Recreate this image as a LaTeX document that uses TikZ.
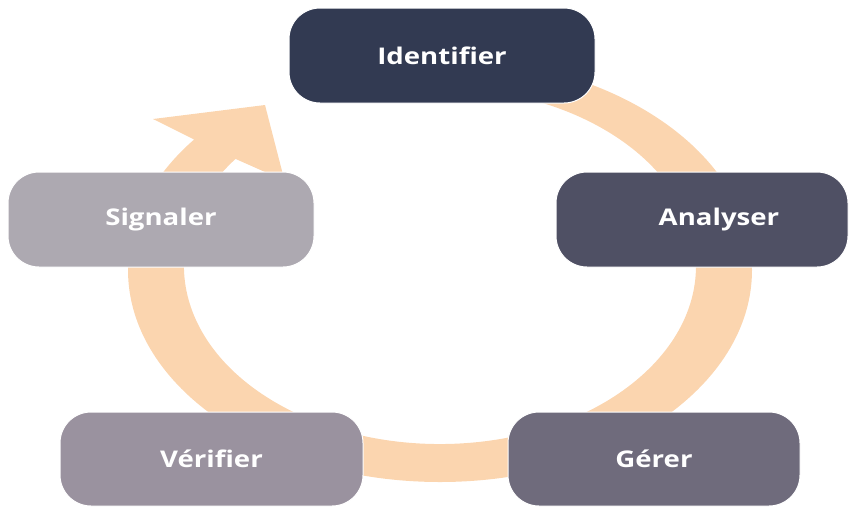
\documentclass[tikz,border=0pt]{standalone}
\usepackage{fontspec}
\newfontfamily\lblfont{Open Sans}[FakeStretch=1.2]
\definecolor{ringc}{HTML}{FBD5AF}
\definecolor{cIdent}{HTML}{323A52}
\definecolor{cAnal}{HTML}{4F5064}
\definecolor{cGerer}{HTML}{6F6B7C}
\definecolor{cVerif}{HTML}{9A929F}
\definecolor{cSign}{HTML}{ADA9B1}
\tikzset{
  stagebox/.style={rectangle, rounded corners=31pt, draw=white, line width=1pt,
    minimum height=95pt, inner sep=0pt, text=white,
    font=\lblfont\bfseries\fontsize{23}{28}\selectfont},
}
\begin{document}
\begin{tikzpicture}[x=1pt,y=-1pt]
\useasboundingbox (0,0) rectangle (851,507);
% circular arrow ring
\fill[ringc] (440,58)
  arc[start angle=-90, end angle=218, x radius=312, y radius=212]
  -- (153,119) -- (265,105) -- (284.5,180.6) -- (235.5,158.9)
  arc[start angle=217, end angle=-90, x radius=256, y radius=178]
  -- cycle;
% stages
\node[stagebox, fill=cIdent, minimum width=306pt] (ident) at (442,55.5) {Identifier};
\node[stagebox, fill=cAnal, minimum width=292pt] (anal) at (702,219.5) {\hspace*{34pt}Analyser};
\node[stagebox, fill=cGerer, minimum width=292pt, minimum height=94pt] (gerer) at (654,459) {Gérer};
\node[stagebox, fill=cVerif, minimum width=303pt, minimum height=94pt] (verif) at (211.5,459) {Vérifier};
\node[stagebox, fill=cSign, minimum width=306pt] (sign) at (161,219.5) {Signaler};
\end{tikzpicture}
\end{document}
